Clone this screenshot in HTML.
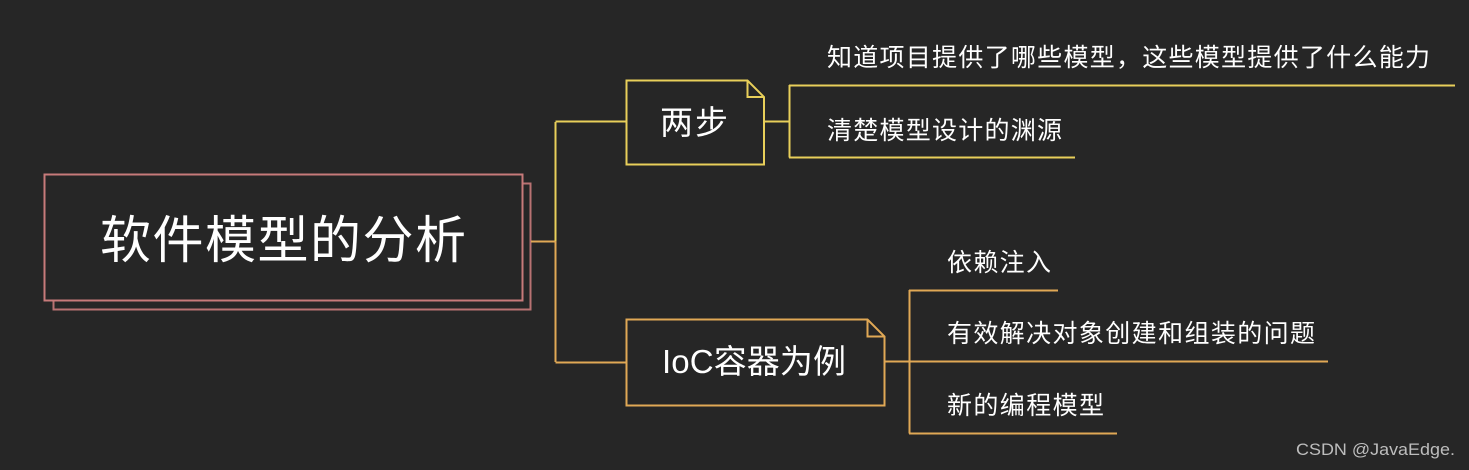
<!DOCTYPE html>
<html><head><meta charset="utf-8"><style>
html,body{margin:0;padding:0;background:#262626;}
svg{display:block}
text{font-family:"Liberation Sans","Noto Sans CJK SC",sans-serif;fill:#fff;}
</style></head><body>
<svg width="1469" height="470" viewBox="0 0 1469 470" xmlns="http://www.w3.org/2000/svg">
<rect width="1469" height="470" fill="#262626"/>
<rect x="53.5" y="183.5" width="477" height="126" fill="#262626" stroke="#b87272" stroke-width="2"/>
<rect x="44.5" y="174.5" width="478" height="126" fill="#262626" stroke="#c77a7a" stroke-width="2"/>
<text x="100" y="258" font-size="51" textLength="366" lengthAdjust="spacing">软件模型的分析</text>
<path d="M531 241.5H555.5M555.5 122V362" stroke="#e0a855" stroke-width="2" fill="none"/>
<path d="M555.5 121.5H626M555.5 122V241" stroke="#e8cf5a" stroke-width="2" fill="none"/>
<path d="M555.5 362.5H626M555.5 242V362" stroke="#e0a855" stroke-width="2" fill="none"/>
<path d="M626.5 80.5H747.5L764 97V164.5H626.5Z" fill="#262626" stroke="#e8cf5a" stroke-width="2"/>
<path d="M747.5 80.5V97H764" fill="none" stroke="#e8cf5a" stroke-width="2"/>
<text x="660" y="134" font-size="33" textLength="68" lengthAdjust="spacing">两步</text>
<path d="M764 121.5H789.5M789.5 85V157.5M789 85.5H1455M789 157.5H1075" stroke="#e8cf5a" stroke-width="2" fill="none"/>
<text x="827" y="66" font-size="25" textLength="603" lengthAdjust="spacing">知道项目提供了哪些模型，这些模型提供了什么能力</text>
<text x="827" y="139" font-size="25" textLength="235" lengthAdjust="spacing">清楚模型设计的渊源</text>
<path d="M626.5 319.5H867.5L884.5 336.5V405.5H626.5Z" fill="#262626" stroke="#e0a855" stroke-width="2"/>
<path d="M867.5 319.5V336.5H884.5" fill="none" stroke="#e0a855" stroke-width="2"/>
<text x="662" y="373" font-size="33" textLength="184" lengthAdjust="spacing">IoC容器为例</text>
<path d="M885 361.5H909.5M909.5 290V433.5M909 290.5H1058M909 361.5H1328M909 433.5H1117" stroke="#e0a855" stroke-width="2" fill="none"/>
<text x="947" y="271" font-size="25" textLength="104" lengthAdjust="spacing">依赖注入</text>
<text x="947" y="342" font-size="25" textLength="368" lengthAdjust="spacing">有效解决对象创建和组装的问题</text>
<text x="947" y="414" font-size="25" textLength="157" lengthAdjust="spacing">新的编程模型</text>
<text x="1296" y="455" font-size="17" textLength="159" lengthAdjust="spacingAndGlyphs" style="fill:#bdbdbd">CSDN @JavaEdge.</text>
</svg>
</body></html>
